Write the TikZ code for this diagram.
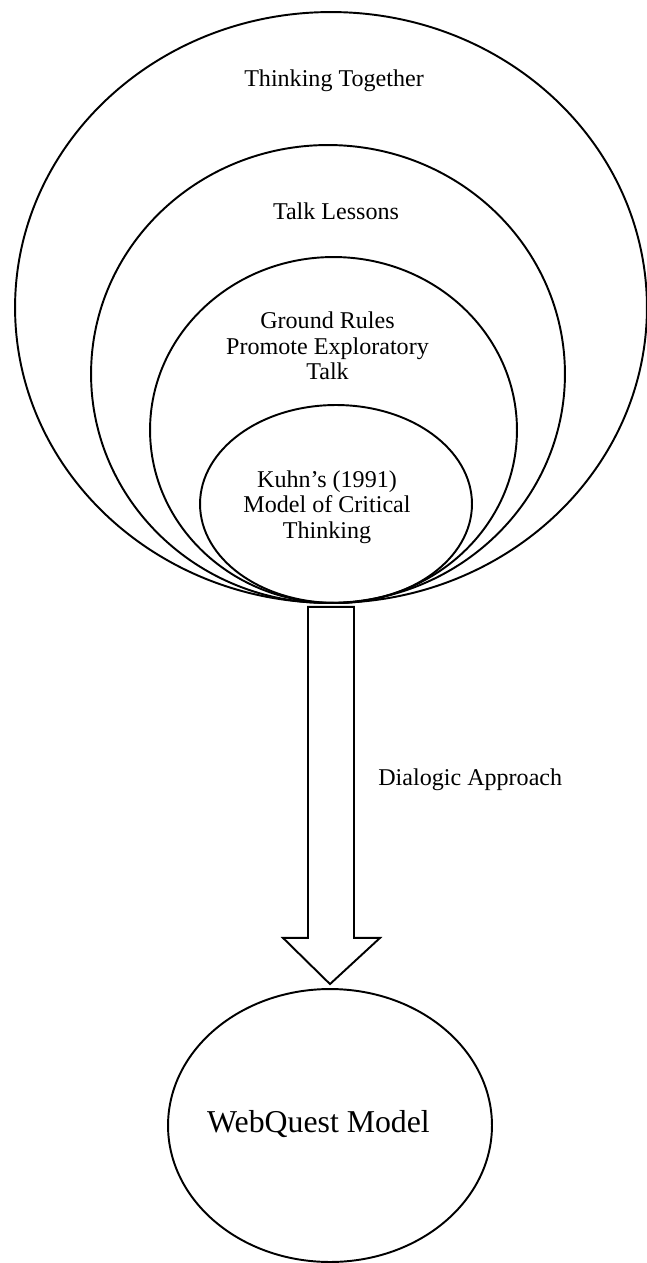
\documentclass[tikz,border=0pt]{standalone}
\usepackage{fontspec}
\setmainfont{Liberation Serif}
\usetikzlibrary{shapes.geometric, calc}
\tikzset{
  ring/.style={ellipse, draw, line width=1.1pt, inner sep=0pt},
  lbl/.style={align=center, inner sep=0pt,
              font=\fontsize{13.7}{14.5}\selectfont},
  biglbl/.style={inner sep=0pt, font=\fontsize{18.1}{20}\selectfont},
  blockarr/.style={draw, line width=1.1pt, line join=miter}
}

\begin{document}
\begin{tikzpicture}[x=0.02cm, y=-0.02cm]
  \useasboundingbox (0,0) rectangle (646,1263);

  %% -- Nested rings --
  \node[ring, minimum width=12.64cm, minimum height=11.82cm] (tt) at (331,307.5) {};
  \node[ring, minimum width=9.48cm, minimum height=9.16cm]   (tl) at (328,374) {};
  \node[ring, minimum width=7.34cm, minimum height=6.92cm]   (gr) at (333.5,430) {};
  \node[ring, minimum width=5.44cm, minimum height=3.96cm]   (ku) at (336,504) {};

  %% -- Ring labels --
  \node[lbl] (ttlbl) at (334,81)  {Thinking Together};
  \node[lbl] (tllbl) at (336,211) {Talk Lessons};
  \node[lbl] (grlbl) at (327.5,346) {Ground Rules\\Promote Exploratory\\Talk};
  \node[lbl] (kulbl) at (327,507) {Kuhn's (1991)\\Model of Critical\\Thinking};

  %% -- Target model --
  \node[ring, minimum width=6.48cm, minimum height=5.46cm] (wq) at (330,1125.5) {};
  \node[biglbl] (wqlbl) at (318.5,1124) {WebQuest Model};

  %% -- Block arrow --
  \coordinate (atop) at ($(tt.south)+(0,3)$);
  \coordinate (atip) at ($(wq.north)+(0,-4)$);
  \draw[blockarr] ($(atop)+(-23,0)$) -- ($(atop)+(-23,331)$)
    -- ($(atop)+(-48,331)$) -- (atip) -- ($(atop)+(49,331)$)
    -- ($(atop)+(23,331)$) -- ($(atop)+(23,0)$) -- cycle;
  \node[lbl, anchor=west] (dalbl) at (378,780) {Dialogic Approach};
\end{tikzpicture}
\end{document}
